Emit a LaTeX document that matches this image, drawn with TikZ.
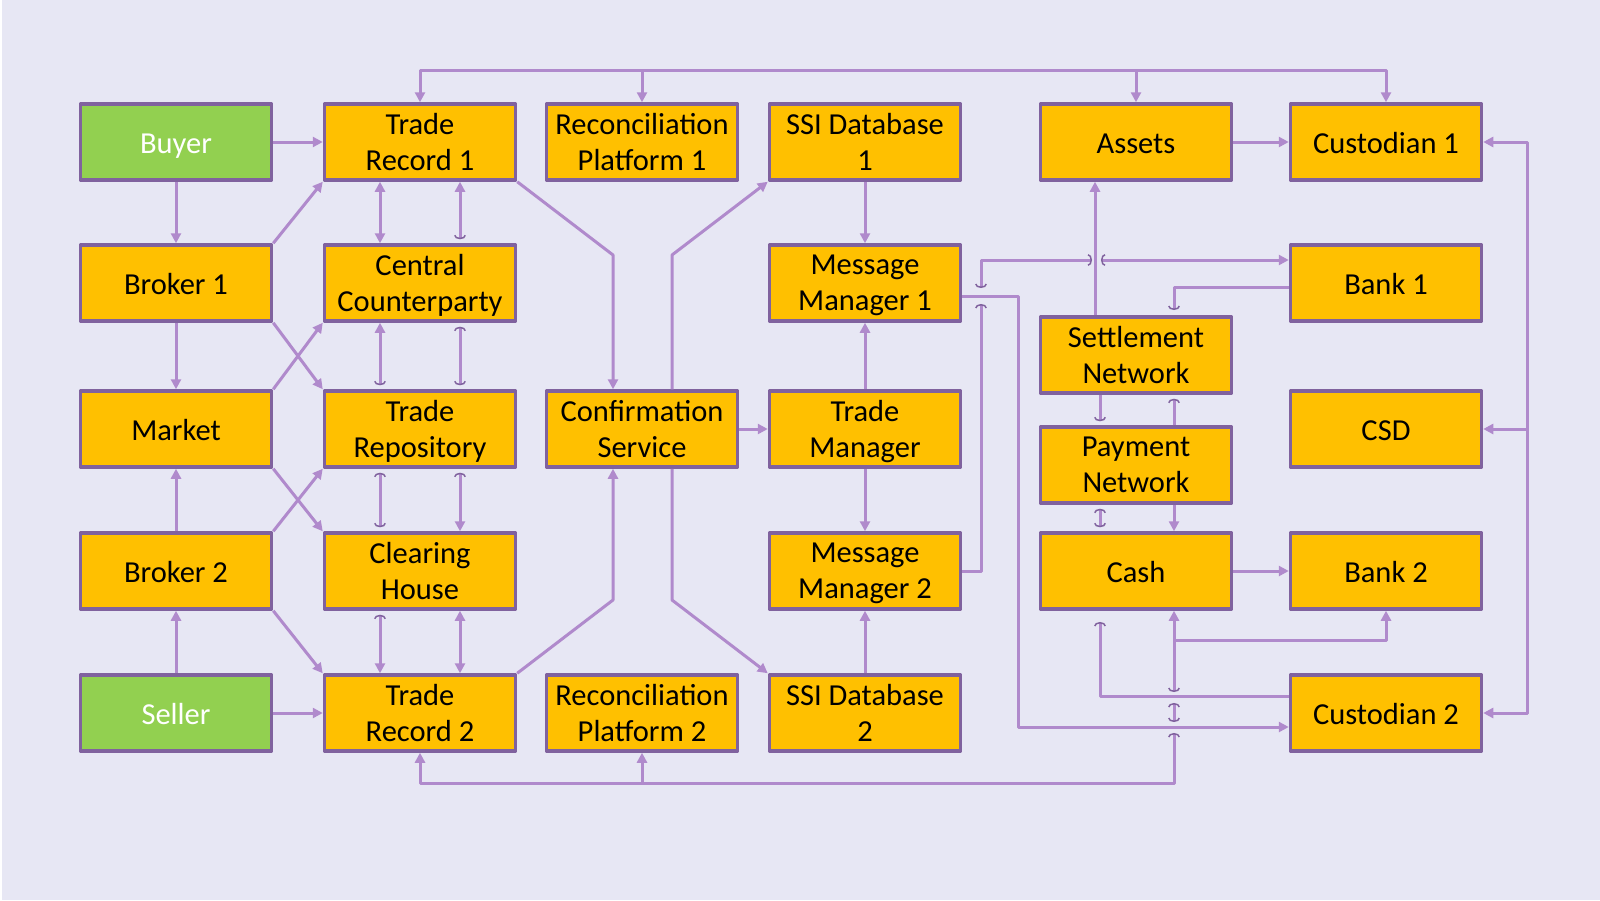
\documentclass[tikz,border=0pt]{standalone}
\usepackage{fontspec}
\setmainfont{Carlito}
\usetikzlibrary{arrows.meta}
\definecolor{bgc}{RGB}{231,231,244}
\definecolor{boxfill}{RGB}{255,192,0}
\definecolor{boxline}{RGB}{128,98,158}
\definecolor{linkc}{RGB}{176,138,204}
\definecolor{partyfill}{RGB}{146,208,80}
\newcommand\boxstrut{\rule{0pt}{22pt}}
\tikzset{
	hk/.tip={Arc Barb[length=4pt,width=12pt,line width=1.5pt,color=boxline,sep=4pt]},
	jp/.tip={Arc Barb[length=4pt,width=12pt,line width=1.5pt,color=boxline]}
}
\begin{document}
\begin{tikzpicture}[x=1pt,y=-1pt,>={Triangle[length=10pt,width=10pt]},line join=round,
		box/.style={draw=boxline,line width=3.5pt,fill=boxfill,minimum width=191pt,minimum height=76pt,inner sep=0pt,align=center,font=\fontsize{30.5}{36}\selectfont,text depth=0pt,execute at begin node=\boxstrut},
		party/.style={box,fill=partyfill,text=white},
		link/.style={draw=linkc,line width=3pt,->}]
			\useasboundingbox (0,0) rectangle (1600,900);
			\fill[white] (0,0) rectangle (2,900);
			\fill[bgc] (2,0) rectangle (1600,900);
			\node[party] (buyer) at (176,142) {Buyer};
			\node[box] (tr-1) at (420,142) {Trade\\Record 1};
			\node[box] (rp-1) at (642,142) {Reconciliation\\Platform 1};
			\node[box] (ssi-1) at (865,142) {SSI Database\\1};
			\node[box] (assets) at (1136,142) {Assets};
			\node[box] (cust-1) at (1386,142) {Custodian 1};
			\node[box] (broker-1) at (176,283) {Broker 1};
			\node[box] (ccp) at (420,283) {Central\\Counterparty};
			\node[box] (mm-1) at (865,283) {Message\\Manager 1};
			\node[box] (bank-1) at (1386,283) {Bank 1};
			\node[box] (sn) at (1136,355) {Settlement\\Network};
			\node[box] (market) at (176,429) {Market};
			\node[box] (repo) at (420,429) {Trade\\Repository};
			\node[box] (cs) at (642,429) {Confirmation\\Service};
			\node[box] (tm) at (865,429) {Trade\\Manager};
			\node[box] (csd) at (1386,429) {CSD};
			\node[box] (pn) at (1136,465) {Payment\\Network};
			\node[box] (broker-2) at (176,571) {Broker 2};
			\node[box] (ch) at (420,571) {Clearing\\House};
			\node[box] (mm-2) at (865,571) {Message\\Manager 2};
			\node[box] (cash) at (1136,571) {Cash};
			\node[box] (bank-2) at (1386,571) {Bank 2};
			\node[party] (seller) at (176,713) {Seller};
			\node[box] (tr-2) at (420,713) {Trade\\Record 2};
			\node[box] (rp-2) at (642,713) {Reconciliation\\Platform 2};
			\node[box] (ssi-2) at (865,713) {SSI Database\\2};
			\node[box] (cust-2) at (1386,713) {Custodian 2};
			\coordinate (bus-t) at (0,70);
			\coordinate (bus-b) at (0,783);
			\coordinate (rx) at (1527,0);
			\coordinate (cs-in-1) at (613,255);
			\coordinate (cs-out-1) at (672,255);
			\coordinate (cs-in-2) at (613,600);
			\coordinate (cs-out-2) at (672,600);
			\coordinate (jb-1) at (981,288);
			\coordinate (jb-2) at (1092,260);
			\coordinate (jb-3) at (1101,260);
			\coordinate (jm-1) at (1018,727);
			\coordinate (jm-2) at (981,304);
			\coordinate (jk-1) at (1174,310);
			\coordinate (jc-1) at (1100,622);
			\coordinate (jc-2) at (1174,692);
			\coordinate (jc-3) at (1174,703);
			\coordinate (jc-4) at (1174,722);
			\coordinate (jc-5) at (1174,733);
			\coordinate (jc-6) at (1174,640);
			\draw[link] (buyer) -- (tr-1);
			\draw[link] (buyer) -- (broker-1);
			\draw[link] (broker-1) -- (market);
			\draw[link] (broker-2) -- (market);
			\draw[link] (seller) -- (broker-2);
			\draw[link] (seller) -- (tr-2);
			\draw[link] (broker-1.north east) -- (tr-1.south west);
			\draw[link] (broker-1.south east) -- (repo.north west);
			\draw[link] (market.north east) -- (ccp.south west);
			\draw[link] (market.south east) -- (ch.north west);
			\draw[link] (broker-2.north east) -- (repo.south west);
			\draw[link] (broker-2.south east) -- (tr-2.north west);
			\draw[link,<->] ([xshift=-40pt]tr-1.south) -- ([xshift=-40pt]ccp.north);
			\draw[link,<-hk] ([xshift=40pt]tr-1.south) -- ([xshift=40pt]ccp.north);
			\draw[link,<-hk] ([xshift=-40pt]ccp.south) -- ([xshift=-40pt]repo.north);
			\draw[link,hk-hk] ([xshift=40pt]ccp.south) -- ([xshift=40pt]repo.north);
			\draw[link,hk-hk] ([xshift=-40pt]repo.south) -- ([xshift=-40pt]ch.north);
			\draw[link,hk->] ([xshift=40pt]repo.south) -- ([xshift=40pt]ch.north);
			\draw[link,hk->] ([xshift=-40pt]ch.south) -- ([xshift=-40pt]tr-2.north);
			\draw[link,<->] ([xshift=40pt]ch.south) -- ([xshift=40pt]tr-2.north);
			\draw[link] (tr-1.south east) -- (cs-in-1) -- (cs-in-1 |- cs.north);
			\draw[link] (cs-out-1 |- cs.north) -- (cs-out-1) -- (ssi-1.south west);
			\draw[link] (tr-2.north east) -- (cs-in-2) -- (cs-in-2 |- cs.south);
			\draw[link] (cs-out-2 |- cs.south) -- (cs-out-2) -- (ssi-2.north west);
			\draw[link] (cs) -- (tm);
			\draw[link] (ssi-1) -- (mm-1);
			\draw[link] (tm) -- (mm-1);
			\draw[link] (tm) -- (mm-2);
			\draw[link] (ssi-2) -- (mm-2);
			\draw[link,<->] (tr-1.north) |- (bus-t -| cust-1.north) -- (cust-1.north);
			\draw[link] (rp-1.north |- bus-t) -- (rp-1.north);
			\draw[link] (assets.north |- bus-t) -- (assets.north);
			\draw[link,<-jp] (tr-2.south) |- (bus-b -| jc-5) -- (jc-5);
			\draw[link] (rp-2.south |- bus-b) -- (rp-2.south);
			\draw[link,jp-jp] (jb-1) |- (jb-2);
			\draw[link,jp->] (jb-3) -- (jb-3 -| bank-1.west);
			\draw[link] ([yshift=-13pt]mm-1.east) -| (jm-1) -- (jm-1 -| cust-2.west);
			\draw[link,-jp] (mm-2.east) -| (jm-2);
			\draw[link,-jp] ([yshift=-4pt]bank-1.west) -| (jk-1);
			\draw[link] ([xshift=-41pt]sn.north) -- ([xshift=-41pt]assets.south);
			\draw[link,-hk] ([xshift=-36pt]sn.south) -- ([xshift=-36pt]pn.north);
			\draw[link,-hk] ([xshift=38pt]pn.north) -- ([xshift=38pt]sn.south);
			\draw[link,hk-hk] ([xshift=-36pt]pn.south) -- ([xshift=-36pt]cash.north);
			\draw[link] ([xshift=38pt]pn.south) -- ([xshift=38pt]cash.north);
			\draw[link] (assets) -- (cust-1);
			\draw[link] (cash) -- (bank-2);
			\draw[link,-jp] ([yshift=17pt]cust-2.west) -| (jc-1);
			\draw[link,jp->] (jc-2) -- (jc-2 |- cash.south);
			\draw[link] (jc-6) -| (bank-2.south);
			\draw[link,jp-jp] (jc-3) -- (jc-4);
			\draw[link,<->] (cust-1.east) -- (cust-1.east -| rx) -- (cust-2.east -| rx) -- (cust-2.east);
			\draw[link] (csd.east -| rx) -- (csd.east);
		\end{tikzpicture}
\end{document}
